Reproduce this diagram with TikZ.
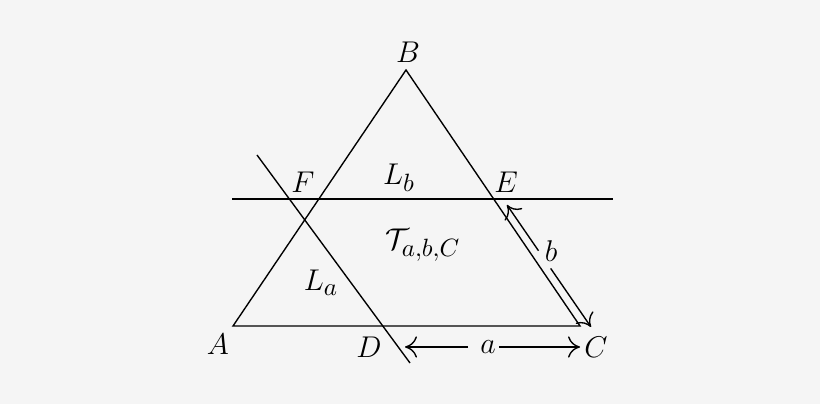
\documentclass[tikz,border=0pt]{standalone}
\usetikzlibrary{arrows.meta,calc}
\DeclareMathSizes{12.8}{12.8}{9.6}{7}
\definecolor{bg}{HTML}{F5F5F5}
\begin{document}
\begin{tikzpicture}[x=0.4pt,y=-0.4pt,
  font=\fontsize{12.8}{15}\selectfont,
  ln/.style={line width=0.55pt},
  lbl/.style={inner sep=1pt},
  dim/.style={line width=0.55pt,-{To[length=4.8pt,width=8.5pt]}}]
\fill[bg] (0,0) rectangle (820,404);
\useasboundingbox (0,0) rectangle (820,404);
% vertices
\coordinate (A) at (233,326);
\coordinate (B) at (406,70);
\coordinate (C) at (580,326);
\coordinate (h1) at (232,199);
\coordinate (h2) at (613,199);
\coordinate (s1) at (257,155);
\coordinate (s2) at (410,363);
\coordinate (a1) at (405,347);
\coordinate (a2) at (580,347);
\coordinate (am1) at (468,347);
\coordinate (am2) at (499,347);
\coordinate (b1) at (507,205);
\coordinate (b2) at (591,327);
\coordinate (bm1) at ($(b1)!0.375!(b2)$);
\coordinate (bm2) at ($(b1)!0.52!(b2)$);
% lines
\draw[ln] (A) -- (B) -- (C) -- cycle;
\draw[ln] (h1) -- (h2);
\draw[ln] (s1) -- (s2);
% dimension arrows
\draw[dim] (am1) -- (a1);
\draw[dim] (am2) -- (a2);
\draw[dim] (bm1) -- (b1);
\draw[dim] (bm2) -- (b2);
\node[lbl] (la) at (488,347) {$a$};
\node[lbl] (lb) at (551,251) {$b$};
% labels
\node[lbl] (nA) at (218,344) {$A$};
\node[lbl] (nB) at (408,52) {$B$};
\node[lbl] (nC) at (596,347) {$C$};
\node[lbl] (nD) at (369,347) {$D$};
\node[lbl] (nE) at (506,182) {$E$};
\node[lbl] (nF) at (303,182) {$F$};
\node[lbl] (nLb) at (399,178) {$L_b$};
\node[lbl] (nLa) at (321,283) {$L_a$};
\node[lbl] (nT) at (423,245) {$\mathcal{T}_{a,b,C}$};
\end{tikzpicture}
\end{document}
